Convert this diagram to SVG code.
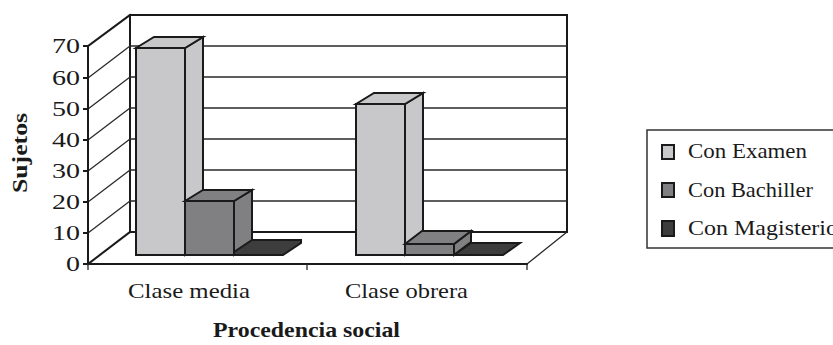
<svg xmlns="http://www.w3.org/2000/svg" width="833" height="345" viewBox="0 0 833 345">
<style>
text{font-family:"Liberation Serif","Times New Roman",serif;font-size:21px;fill:#1a1a1a}
.b{font-weight:bold}
.edge{stroke:#1a1a1a;stroke-width:2;fill:none;stroke-linecap:square}
.grid{stroke:#2a2a2a;stroke-width:1.3;fill:none}
.bar{stroke:#1a1a1a;stroke-width:2;stroke-linejoin:miter}
.ex{fill:#c8c8ca}
.ba{fill:#808083}
.ma{fill:#3d3d3d}
</style>
<rect width="833" height="345" fill="#ffffff"/>
<g id="axes">
  <rect x="130" y="15" width="437" height="217" fill="#ffffff" class="edge"/>
  <path class="grid" d="M130 46H567M130 77H567M130 108H567M130 139H567M130 170H567M130 201H567"/>
  <path class="grid" d="M88 233L130 201M88 202L130 170M88 171L130 139M88 140L130 108M88 109L130 77M88 78L130 46"/>
  <path class="edge" d="M88 46L130 15"/>
  <path class="edge" d="M88 264L130 232"/>
  <path class="grid" d="M527 264L567 232"/>
  <path class="edge" d="M88 46V264H527"/>
  <path class="edge" d="M84 46H88M84 78H88M84 109H88M84 140H88M84 171H88M84 202H88M84 233H88M84 264H88"/>
  <path class="grid" d="M88 264V270M307 264V270M527 264V270"/>
</g>
<g id="ylabels">
  <text x="80" y="53" text-anchor="end" textLength="28" lengthAdjust="spacingAndGlyphs">70</text>
  <text x="80" y="85" text-anchor="end" textLength="28" lengthAdjust="spacingAndGlyphs">60</text>
  <text x="80" y="116" text-anchor="end" textLength="28" lengthAdjust="spacingAndGlyphs">50</text>
  <text x="80" y="147" text-anchor="end" textLength="28" lengthAdjust="spacingAndGlyphs">40</text>
  <text x="80" y="178" text-anchor="end" textLength="28" lengthAdjust="spacingAndGlyphs">30</text>
  <text x="80" y="209" text-anchor="end" textLength="28" lengthAdjust="spacingAndGlyphs">20</text>
  <text x="80" y="240" text-anchor="end" textLength="28" lengthAdjust="spacingAndGlyphs">10</text>
  <text x="80" y="271" text-anchor="end" textLength="14" lengthAdjust="spacingAndGlyphs">0</text>
  <text class="b" transform="translate(27,153) rotate(-90)" text-anchor="middle" textLength="80" lengthAdjust="spacingAndGlyphs">Sujetos</text>
</g>
<g id="bars-media">
  <g id="media-examen">
    <rect class="bar ex" x="136" y="48" width="49" height="207"/>
    <polygon class="bar ex" points="185,48 203,37 203,244 185,255"/>
    <polygon class="bar ex" points="136,48 154,37 203,37 185,48"/>
  </g>
  <g id="media-bachiller">
    <rect class="bar ba" x="185" y="201" width="49" height="54"/>
    <polygon class="bar ba" points="234,201 252,190 252,244 234,255"/>
    <polygon class="bar ba" points="185,201 203,190 252,190 234,201"/>
  </g>
  <g id="media-magisterio">
    <polygon class="bar ma" points="234,255 283,255 301,243 301,240 252,240 234,252"/>
  </g>
</g>
<g id="bars-obrera">
  <g id="obrera-examen">
    <rect class="bar ex" x="356" y="104" width="49" height="151"/>
    <polygon class="bar ex" points="405,104 423,93 423,244 405,255"/>
    <polygon class="bar ex" points="356,104 374,93 423,93 405,104"/>
  </g>
  <g id="obrera-bachiller">
    <rect class="bar ba" x="405" y="244" width="49" height="11"/>
    <polygon class="bar ba" points="454,244 471,231 471,242 454,255"/>
    <polygon class="bar ba" points="405,244 422,231 471,231 454,244"/>
  </g>
  <g id="obrera-magisterio">
    <polygon class="bar ma" points="454,255 503,255 520,243 471,243"/>
  </g>
</g>
<g id="xlabels">
  <text x="128" y="298" textLength="122" lengthAdjust="spacingAndGlyphs">Clase media</text>
  <text x="345" y="298" textLength="123" lengthAdjust="spacingAndGlyphs">Clase obrera</text>
  <text class="b" x="213" y="337" textLength="187" lengthAdjust="spacingAndGlyphs">Procedencia social</text>
</g>
<g id="legend">
  <rect x="647" y="130" width="200" height="118" fill="#ffffff" stroke="#333333" stroke-width="1.5"/>
  <rect class="bar ex" x="662" y="145" width="12" height="14"/>
  <rect class="bar ba" x="662" y="183" width="12" height="14"/>
  <rect class="bar ma" x="662" y="221" width="12" height="15"/>
  <text x="688" y="158" textLength="119" lengthAdjust="spacingAndGlyphs">Con Examen</text>
  <text x="688" y="197" textLength="125" lengthAdjust="spacingAndGlyphs">Con Bachiller</text>
  <text x="688" y="235" textLength="150" lengthAdjust="spacingAndGlyphs">Con Magisterio</text>
</g>
</svg>
